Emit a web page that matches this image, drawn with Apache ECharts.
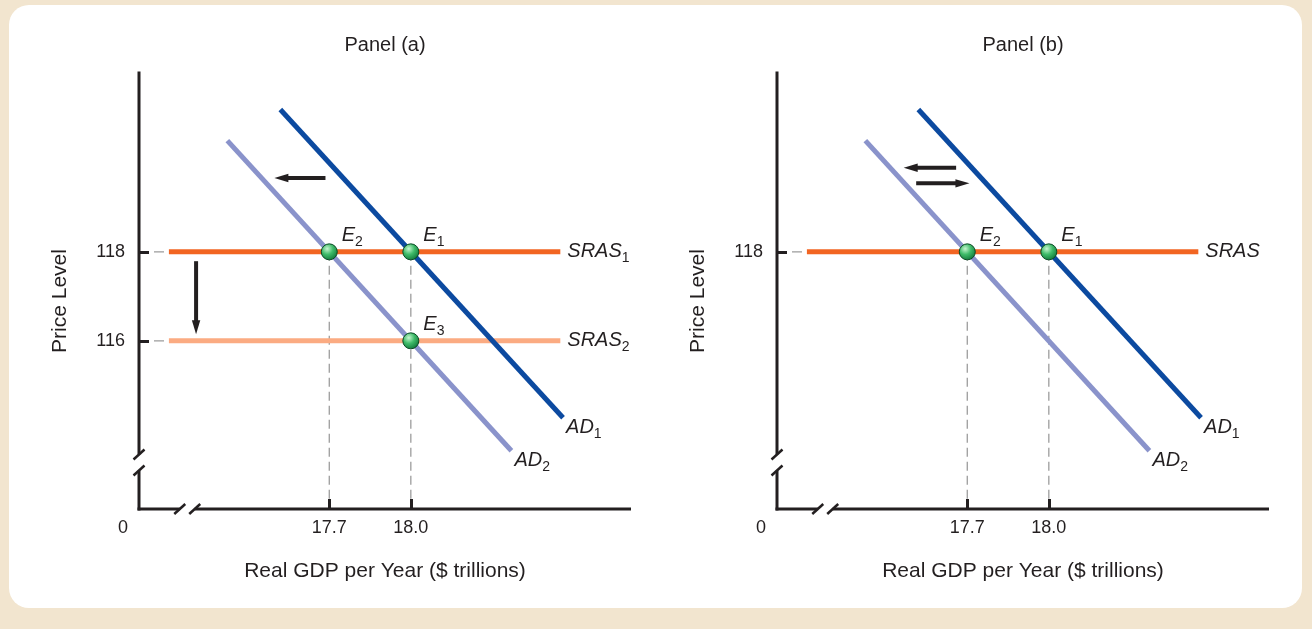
<!DOCTYPE html>
<html>
<head>
<meta charset="utf-8">
<script src="https://cdn.jsdelivr.net/npm/echarts@6/dist/echarts.min.js"></script>
<style>
  html, body { margin: 0; padding: 0; background: #f2e5cf; }
  #card { position: absolute; left: 9px; top: 5px; width: 1293px; height: 603px; background: #ffffff; border-radius: 20px; }
  #chart { position: absolute; left: 0; top: 0; width: 1312px; height: 629px; }
</style>
</head>
<body>
<div id="card"></div>
<div id="chart"></div>
<script>
// ---- data (GDP in $ trillions, price level index) ----
const panelTitles = ['Panel (a)', 'Panel (b)'];
const gdpRange = [17.0, 18.81];          // axis extent, origin shown as "0" behind the break
const priceRange = [112.22, 122.02];
const gdpBreak = [17.15, 17.205];        // broken-axis gap on GDP axis
const priceBreak = [113.085, 113.445];   // broken-axis gap on price axis
const gdpTicks = [17.7, 18.0];
const priceTicksA = [116, 118];
const priceTicksB = [118];

// short-run aggregate supply (horizontal)
const sras1 = [[17.11, 118], [18.55, 118]];
const sras2 = [[17.11, 116], [18.55, 116]];
// aggregate demand
const ad1 = [[17.52, 121.2], [18.56, 114.27]];
const ad2 = [[17.325, 120.5], [18.37, 113.53]];

// equilibria
const eqA = [['E', '2', 17.7, 118], ['E', '1', 18.0, 118], ['E', '3', 18.0, 116]];
const eqB = [['E', '2', 17.7, 118], ['E', '1', 18.0, 118]];

// shift arrows [from, to]
const arrowsA = [[[17.686, 119.66], [17.498, 119.66]], [[17.21, 117.79], [17.21, 116.15]]];
const arrowsB = [[[17.659, 119.89], [17.466, 119.89]], [[17.512, 119.54], [17.708, 119.54]]];

// ---- styling ----
const FONT = '"Liberation Sans", Arial, Helvetica, sans-serif';
const INK = '#231f20';
const GUIDE = '#9c9c9c';
const C_SRAS1 = '#f26522';
const C_SRAS2 = '#fbab82';
const C_AD1 = '#0c4aa0';
const C_AD2 = '#8a93cb';

const grids = [
  { left: 139, top: 73, width: 492, height: 436 },
  { left: 777, top: 73, width: 492, height: 436 }
];

const richSub = {
  i: { fontFamily: FONT, fontStyle: 'italic', fontSize: 20, color: INK, lineHeight: 22 },
  s: { fontFamily: FONT, fontSize: 14, color: INK, lineHeight: 14, padding: [12, 0, 0, 0] }
};

function xAxisFor(gi) {
  return {
    gridIndex: gi, type: 'value', min: gdpRange[0], max: gdpRange[1],
    name: 'Real GDP per Year ($ trillions)', nameLocation: 'middle', nameGap: 52,
    nameTextStyle: { fontFamily: FONT, fontSize: 21, color: INK },
    axisLine: { show: false }, splitLine: { show: false },
    axisTick: { show: true, inside: true, length: 10, customValues: gdpTicks, lineStyle: { color: INK, width: 3 } },
    axisLabel: {
      customValues: [gdpRange[0]].concat(gdpTicks), margin: 10,
      fontFamily: FONT, fontSize: 18, color: INK,
      formatter: v => (Math.abs(v - gdpRange[0]) < 1e-9 ? '{z|0}' : v.toFixed(1)),
      rich: { z: { fontFamily: FONT, fontSize: 18, color: INK, padding: [0, 32, 0, 0] } }
    }
  };
}
function yAxisFor(gi, ticks) {
  return {
    gridIndex: gi, type: 'value', min: priceRange[0], max: priceRange[1],
    name: 'Price Level', nameLocation: 'middle', nameGap: 68,
    nameTextStyle: { fontFamily: FONT, fontSize: 21, color: INK, padding: [0, 20, 0, 0] },
    axisLine: { show: false }, splitLine: { show: false },
    axisTick: { show: true, inside: true, length: 10, customValues: ticks, lineStyle: { color: INK, width: 3 } },
    axisLabel: { customValues: ticks, margin: 14, fontFamily: FONT, fontSize: 18, color: INK, formatter: v => String(v) }
  };
}

function lineSeries(gi, data, color, label, dist, offset) {
  return {
    type: 'line', xAxisIndex: gi, yAxisIndex: gi, data: data, symbol: 'none', z: 3,
    lineStyle: { color: color, width: 5, cap: 'butt' },
    endLabel: { show: true, formatter: () => label, distance: dist, offset: offset || [0, 0], rich: richSub },
    silent: true, animation: false
  };
}

function panelSeries(gi, srasList, eqs) {
  const s = [];
  // dashed guides from the price axis to each SRAS line
  srasList.forEach(sr => {
    s.push({
      type: 'line', xAxisIndex: gi, yAxisIndex: gi, symbol: 'none', z: -1, silent: true, animation: false,
      data: [[gdpRange[0], sr.data[0][1]], sr.data[0]],
      lineStyle: { color: GUIDE, width: 1.3, type: [10, 5] }
    });
  });
  // dashed drop lines from the equilibria to the GDP axis
  const tops = {};
  eqs.forEach(e => { tops[e[2]] = Math.max(tops[e[2]] || -Infinity, e[3]); });
  Object.keys(tops).forEach(x => {
    s.push({
      type: 'line', xAxisIndex: gi, yAxisIndex: gi, symbol: 'none', z: -1, silent: true, animation: false,
      data: [[+x, tops[x]], [+x, priceRange[0]]],
      lineStyle: { color: GUIDE, width: 1.3, type: [9, 5] }
    });
  });
  srasList.forEach(sr => s.push(lineSeries(gi, sr.data, sr.color, sr.label, 7)));
  s.push(lineSeries(gi, ad1, C_AD1, '{i|AD}{s|1}', 3, [0, 10]));
  s.push(lineSeries(gi, ad2, C_AD2, '{i|AD}{s|2}', 3, [0, 10]));
  s.push({
    type: 'scatter', xAxisIndex: gi, yAxisIndex: gi, z: 5, silent: true, animation: false,
    symbol: 'circle', symbolSize: 16,
    data: eqs.map(e => ({ value: [e[2], e[3]], name: e[0] + e[1] })),
    itemStyle: {
      opacity: 1,
      color: { type: 'radial', x: 0.38, y: 0.32, r: 0.75,
        colorStops: [{ offset: 0, color: '#c6f5cf' }, { offset: 0.45, color: '#3fbb69' }, { offset: 1, color: '#0b6f34' }] },
      borderColor: '#0a4a24', borderWidth: 1
    },
    label: {
      show: true, position: 'right', distance: 4, offset: [0, -16], color: INK, opacity: 1,
      formatter: p => '{i|E}{s|' + p.name.slice(1) + '}', rich: richSub
    }
  });
  return s;
}

const chart = echarts.init(document.getElementById('chart'), null, { renderer: 'canvas' });
chart.setOption({
  animation: false,
  backgroundColor: 'transparent',
  grid: grids,
  xAxis: [xAxisFor(0), xAxisFor(1)],
  yAxis: [yAxisFor(0, priceTicksA), yAxisFor(1, priceTicksB)],
  series: panelSeries(0, [
      { data: sras1, color: C_SRAS1, label: '{i|SRAS}{s|1}' },
      { data: sras2, color: C_SRAS2, label: '{i|SRAS}{s|2}' }
    ], eqA)
    .concat(panelSeries(1, [{ data: sras1, color: C_SRAS1, label: '{i|SRAS}' }], eqB))
});

// axis lines with break marks, panel titles and shift arrows
function decorate() {
  const g = [];
  const px = (gi, pt) => chart.convertToPixel({ gridIndex: gi }, pt);
  const seg = (a, b, w) => ({ type: 'line', silent: true, z: 10,
    shape: { x1: a[0], y1: a[1], x2: b[0], y2: b[1] }, style: { stroke: INK, lineWidth: w || 3 } });
  const slash = c => seg([c[0] - 5.5, c[1] + 5], [c[0] + 5.5, c[1] - 5], 2.5);

  [0, 1].forEach(gi => {
    const x0 = gdpRange[0], y0 = priceRange[0];
    const yTop = px(gi, [x0, priceRange[1]]);
    const yB1 = px(gi, [x0, priceBreak[1]]);
    const yB0 = px(gi, [x0, priceBreak[0]]);
    const org = px(gi, [x0, y0]);
    const xB0 = px(gi, [gdpBreak[0], y0]);
    const xB1 = px(gi, [gdpBreak[1], y0]);
    const xEnd = px(gi, [gdpRange[1], y0]);
    g.push(seg([yTop[0], yTop[1] - 1.5], yB1), seg(yB0, [org[0], org[1] + 1.5]));
    g.push(seg([org[0] - 1.5, org[1]], xB0), seg(xB1, xEnd));
    g.push(slash(yB1), slash(yB0), slash(xB0), slash(xB1));

    const gr = grids[gi];
    g.push({ type: 'text', silent: true, z: 10,
      style: { text: panelTitles[gi], x: gr.left + gr.width / 2, y: 45, align: 'center', verticalAlign: 'middle',
        font: '20px ' + FONT, fill: INK } });

    (gi === 0 ? arrowsA : arrowsB).forEach(ar => {
      const a = px(gi, ar[0]), b = px(gi, ar[1]);
      const dx = b[0] - a[0], dy = b[1] - a[1], L = Math.hypot(dx, dy);
      const ux = dx / L, uy = dy / L, nx = -uy, ny = ux;
      const head = 14, half = 4.2;
      const base = [b[0] - ux * head, b[1] - uy * head];
      g.push(seg(a, [base[0] + ux * 2, base[1] + uy * 2], 4));
      g.push({ type: 'polygon', silent: true, z: 10,
        shape: { points: [[b[0], b[1]], [base[0] + nx * half, base[1] + ny * half], [base[0] - nx * half, base[1] - ny * half]] },
        style: { fill: INK } });
    });
  });
  chart.setOption({ graphic: g });
}
decorate();
</script>
</body>
</html>
